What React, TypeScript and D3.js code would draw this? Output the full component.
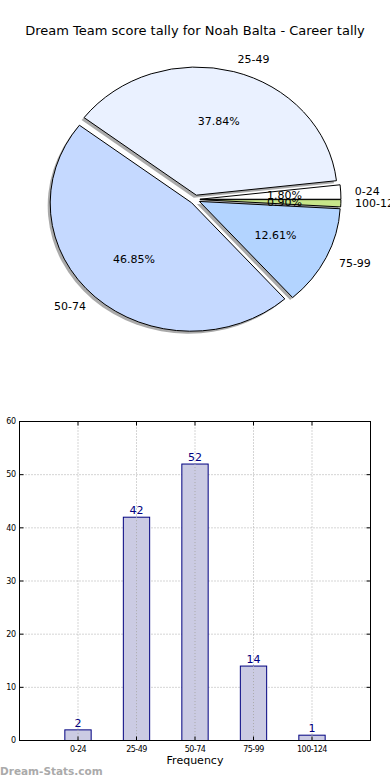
import React, { useEffect, useRef } from 'react';
import * as d3 from 'd3';

const title = 'Dream Team score tally for Noah Balta - Career tally';
const categories = ['0-24', '25-49', '50-74', '75-99', '100-124'];
const counts = [2, 42, 52, 14, 1];
const sliceColors = ['#ffffff', '#eaf1ff', '#c5d9ff', '#b3d4ff', '#c8e68a'];
const yTicks = [0, 10, 20, 30, 40, 50, 60];

const App = () => {
  const ref = useRef<SVGSVGElement>(null);

  useEffect(() => {
    const svg = d3.select(ref.current);
    svg.selectAll('*').remove();
    const font = '"DejaVu Sans", sans-serif';

    svg.append('text')
      .attr('x', 195).attr('y', 35)
      .attr('text-anchor', 'middle')
      .attr('font-family', font).attr('font-size', 13)
      .text(title);

    // pie (matplotlib style: start at 3 o'clock, counter-clockwise, elliptical)
    const cx = 195, cy = 199.5, rx = 141, ry = 128, explode = 0.035;
    const total = d3.sum(counts);
    const pie = d3.pie<number>().sort(null)
      .startAngle(Math.PI / 2).endAngle(Math.PI / 2 - 2 * Math.PI)(counts);
    const arc = d3.arc<any>().innerRadius(0).outerRadius(1);

    const slices = pie.map((p, i) => {
      const mid = (p.startAngle + p.endAngle) / 2; // d3 angle, clockwise from 12
      const ux = Math.sin(mid), uy = -Math.cos(mid);
      return { p, i, ux, uy, ox: cx + explode * rx * ux, oy: cy + explode * ry * uy };
    });

    const g = svg.append('g');
    slices.forEach(s => {
      g.append('path')
        .attr('d', arc(s.p))
        .attr('transform', `translate(${s.ox - 2.5},${s.oy + 2.5}) scale(${rx},${ry})`)
        .attr('fill', '#555').attr('opacity', 0.5);
    });
    slices.forEach(s => {
      g.append('path')
        .attr('d', arc(s.p))
        .attr('transform', `translate(${s.ox},${s.oy}) scale(${rx},${ry})`)
        .attr('fill', sliceColors[s.i])
        .attr('stroke', '#000').attr('stroke-width', 1)
        .attr('vector-effect', 'non-scaling-stroke');
    });
    slices.forEach(s => {
      const lx = s.ox + 1.1 * rx * s.ux, ly = s.oy + 1.1 * ry * s.uy;
      g.append('text')
        .attr('x', lx).attr('y', ly)
        .attr('dy', '0.35em')
        .attr('text-anchor', s.ux >= 0 ? 'start' : 'end')
        .attr('font-family', font).attr('font-size', 11)
        .text(categories[s.i]);
      const px = s.ox + 0.6 * rx * s.ux, py = s.oy + 0.6 * ry * s.uy;
      g.append('text')
        .attr('x', px).attr('y', py)
        .attr('dy', '0.35em')
        .attr('text-anchor', 'middle')
        .attr('font-family', font).attr('font-size', 11)
        .text((counts[s.i] / total * 100).toFixed(2) + '%');
    });

    // bar chart
    const left = 19.5, right = 370.5, top = 421.5, bottom = 740.5;
    const x = d3.scaleLinear().domain([-1, 5]).range([left, right]);
    const y = d3.scaleLinear().domain([0, 60]).range([bottom, top]);
    const bw = x(0.45) - x(0);
    const b = svg.append('g');

    // grid
    categories.forEach((_, i) => {
      b.append('line')
        .attr('x1', x(i)).attr('x2', x(i)).attr('y1', top).attr('y2', bottom)
        .attr('stroke', '#aaa').attr('stroke-dasharray', '1,2');
    });
    yTicks.forEach(t => {
      b.append('line')
        .attr('x1', left).attr('x2', right).attr('y1', y(t)).attr('y2', y(t))
        .attr('stroke', '#aaa').attr('stroke-dasharray', '1,2');
    });

    b.selectAll('rect.bar').data(counts).enter().append('rect')
      .attr('class', 'bar')
      .attr('x', (_, i) => x(i) - bw / 2)
      .attr('y', d => y(d))
      .attr('width', bw)
      .attr('height', d => bottom - y(d))
      .attr('fill', '#cbcbe3')
      .attr('stroke', '#000080').attr('stroke-width', 1);

    // grid drawn over bars too (matplotlib grid on top)
    categories.forEach((_, i) => {
      b.append('line')
        .attr('x1', x(i)).attr('x2', x(i)).attr('y1', y(counts[i])).attr('y2', bottom)
        .attr('stroke', '#aaa').attr('stroke-dasharray', '1,2');
    });

    b.selectAll('text.val').data(counts).enter().append('text')
      .attr('class', 'val')
      .attr('x', (_, i) => x(i))
      .attr('y', d => y(d) - 3)
      .attr('text-anchor', 'middle')
      .attr('font-family', font).attr('font-size', 11)
      .attr('fill', '#000080')
      .text(d => d);

    b.append('rect')
      .attr('x', left).attr('y', top).attr('width', right - left).attr('height', bottom - top)
      .attr('fill', 'none').attr('stroke', '#000').attr('stroke-width', 1);

    // ticks
    yTicks.forEach(t => {
      b.append('line').attr('x1', left).attr('x2', left + 4).attr('y1', y(t)).attr('y2', y(t)).attr('stroke', '#000');
      b.append('line').attr('x1', right).attr('x2', right - 4).attr('y1', y(t)).attr('y2', y(t)).attr('stroke', '#000');
      b.append('text')
        .attr('x', left - 4).attr('y', y(t)).attr('dy', '0.35em')
        .attr('text-anchor', 'end')
        .attr('font-family', font).attr('font-size', 8)
        .attr('letter-spacing', -0.5)
        .text(t);
    });
    categories.forEach((c, i) => {
      b.append('line').attr('x1', x(i)).attr('x2', x(i)).attr('y1', bottom).attr('y2', bottom - 4).attr('stroke', '#000');
      b.append('line').attr('x1', x(i)).attr('x2', x(i)).attr('y1', top).attr('y2', top + 4).attr('stroke', '#000');
      b.append('text')
        .attr('x', x(i)).attr('y', bottom + 11)
        .attr('text-anchor', 'middle')
        .attr('font-family', font).attr('font-size', 8)
        .attr('letter-spacing', -0.5)
        .text(c);
    });

    b.append('text')
      .attr('x', (left + right) / 2).attr('y', 764)
      .attr('text-anchor', 'middle')
      .attr('font-family', font).attr('font-size', 11)
      .text('Frequency');

    svg.append('text')
      .attr('x', 0).attr('y', 775)
      .attr('font-family', font).attr('font-size', 10.5).attr('font-weight', 'bold')
      .attr('fill', '#aaa')
      .text('Dream-Stats.com');
  }, []);

  return (
    <svg ref={ref} width={390} height={780}
      style={{ position: 'absolute', left: 0, top: 0, background: '#fff' }} />
  );
};

export default App;
